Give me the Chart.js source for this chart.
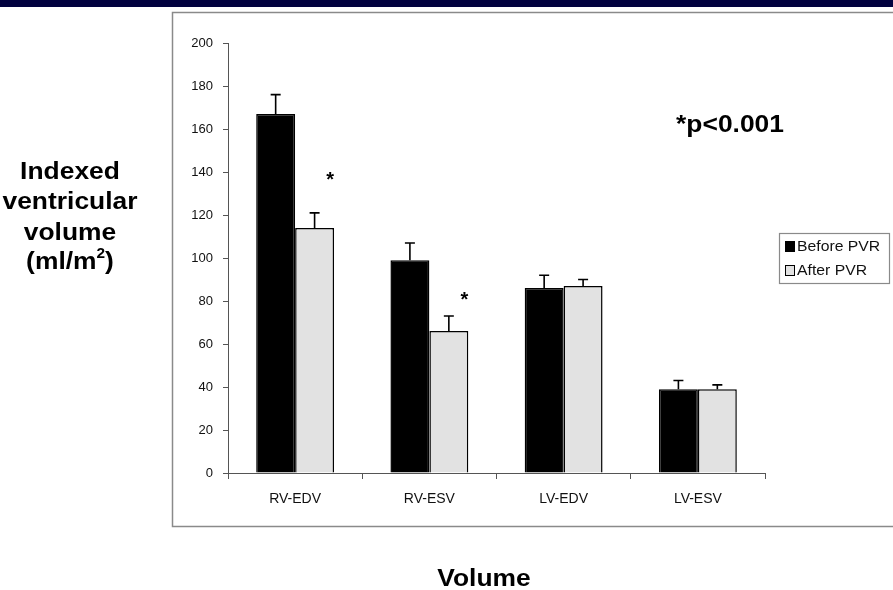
<!DOCTYPE html>
<html>
<head>
<meta charset="utf-8">
<script src="https://cdn.jsdelivr.net/npm/chart.js@4"></script>
<style>
  html, body { margin: 0; padding: 0; background: #fff; }
  #wrap { width: 893px; height: 590px; position: relative; }
</style>
</head>
<body>
<div id="wrap"><canvas id="c" width="893" height="590"></canvas></div>
<script>
// ---- data ----
const categories = ['RV-EDV', 'RV-ESV', 'LV-EDV', 'LV-ESV'];
const seriesNames = ['Before PVR', 'After PVR'];
const beforeValues = [167, 99, 86, 39];
const beforeErrors = [9, 8, 6, 4];
const afterValues = [114, 66, 87, 39];
const afterErrors = [7, 7, 3, 2];
const starValues = [138, 82, null, null];   // height (in y units) of the "*" significance marks over "After PVR"
const yTicks = [0, 20, 40, 60, 80, 100, 120, 140, 160, 180, 200];
const yAxisTitle = ['Indexed', 'ventricular', 'volume', '(ml/m²)'];
const xAxisTitle = 'Volume';
const pNote = '*p<0.001';

const FONT = '"Liberation Sans", Arial, sans-serif';
const errorsBySeries = [beforeErrors, afterErrors];
const SX = 1.1; // horizontal stretch of the big bold labels

function stretchedText(ctx, parts, cx, y) {
  // parts: [{t, font, dy}]
  let total = 0;
  parts.forEach(p => { ctx.font = p.font; p.w = ctx.measureText(p.t).width; total += p.w; });
  ctx.save();
  ctx.translate(cx, y);
  ctx.scale(SX, 1);
  let x = -total / 2;
  ctx.textAlign = 'left';
  parts.forEach(p => { ctx.font = p.font; ctx.fillText(p.t, x, p.dy || 0); x += p.w; });
  ctx.restore();
}

const decorPlugin = {
  id: 'decor',
  beforeDraw(chart) {
    const ctx = chart.ctx;
    ctx.save();
    ctx.fillStyle = '#fff';
    ctx.fillRect(0, 0, chart.width, chart.height);
    ctx.fillStyle = '#02023f';
    ctx.fillRect(0, 0, chart.width, 7);
    ctx.strokeStyle = '#8a8a8a';
    ctx.lineWidth = 1.5;
    ctx.strokeRect(172.5, 12.5, 800, 514);
    ctx.restore();
  },
  afterDatasetsDraw(chart) {
    const ctx = chart.ctx;
    const ys = chart.scales.y;
    ctx.save();
    ctx.strokeStyle = '#000';
    ctx.lineWidth = 1.6;
    chart.data.datasets.forEach((ds, i) => {
      const meta = chart.getDatasetMeta(i);
      const errs = errorsBySeries[i];
      meta.data.forEach((bar, j) => {
        const top = ys.getPixelForValue(ds.data[j] + errs[j]);
        ctx.beginPath();
        ctx.moveTo(bar.x, bar.y);
        ctx.lineTo(bar.x, top);
        ctx.moveTo(bar.x - 5, top);
        ctx.lineTo(bar.x + 5, top);
        ctx.stroke();
      });
    });
    const metaAfter = chart.getDatasetMeta(1);
    ctx.fillStyle = '#000';
    ctx.font = 'bold 20px ' + FONT;
    ctx.textAlign = 'center';
    ctx.textBaseline = 'middle';
    starValues.forEach((v, j) => {
      if (v == null) return;
      const bar = metaAfter.data[j];
      ctx.fillText('*', bar.x + bar.width * 0.4, ys.getPixelForValue(v) + 4);
    });
    ctx.restore();
  },
  afterDraw(chart) {
    const ctx = chart.ctx;
    ctx.save();
    ctx.fillStyle = '#000';
    ctx.textBaseline = 'middle';
    const big = 'bold 24px ' + FONT;
    const sup = 'bold 14px ' + FONT;
    const ly = [172, 202, 233, 262];
    yAxisTitle.forEach((t, k) => {
      if (t.indexOf('²') >= 0) {
        const base = t.replace('²)', '');
        stretchedText(ctx, [{ t: base, font: big }, { t: '2', font: sup, dy: -8 }, { t: ')', font: big }], 70, ly[k]);
      } else {
        stretchedText(ctx, [{ t, font: big }], 70, ly[k]);
      }
    });
    stretchedText(ctx, [{ t: xAxisTitle, font: big }], 484, 579);
    stretchedText(ctx, [{ t: pNote, font: big }], 730, 125);
    // legend
    ctx.strokeStyle = '#8a8a8a';
    ctx.lineWidth = 1.2;
    ctx.strokeRect(779.5, 233.5, 110, 50);
    ctx.font = '15px ' + FONT;
    ctx.textAlign = 'left';
    chart.data.datasets.forEach((ds, i) => {
      const y = 246 + i * 24;
      ctx.fillStyle = ds.backgroundColor;
      ctx.fillRect(785, y - 5, 10, 11);
      ctx.strokeStyle = '#000';
      ctx.lineWidth = 1;
      ctx.strokeRect(785.5, y - 4.5, 9, 10);
      ctx.fillStyle = '#111';
      ctx.save();
      ctx.translate(797, y + 1);
      ctx.scale(1.05, 1);
      ctx.fillText(ds.label, 0, 0);
      ctx.restore();
    });
    ctx.restore();
  }
};

new Chart(document.getElementById('c'), {
  type: 'bar',
  data: {
    labels: categories,
    datasets: [
      { label: seriesNames[0], data: beforeValues, backgroundColor: '#000000', borderColor: '#000', borderWidth: 1.5 },
      { label: seriesNames[1], data: afterValues, backgroundColor: '#e2e2e2', borderColor: '#000', borderWidth: 1.5 }
    ]
  },
  options: {
    responsive: false,
    animation: false,
    devicePixelRatio: 1,
    layout: { padding: { left: 172, top: 43, right: 128, bottom: 0 } },
    plugins: { legend: { display: false }, tooltip: { enabled: false } },
    datasets: { bar: { categoryPercentage: 0.58, barPercentage: 1.0 } },
    scales: {
      x: {
        type: 'category',
        offset: true,
        afterFit(s) { s.height = 117; },
        grid: { offset: true, drawOnChartArea: false, tickLength: 6, color: '#555', lineWidth: 1 },
        border: { color: '#555', width: 1 },
        ticks: { color: '#111', font: { family: FONT, size: 14 }, padding: 12, maxRotation: 0 }
      },
      y: {
        min: 0, max: 200,
        afterFit(s) { s.width = 56; },
        afterBuildTicks(s) { s.ticks = yTicks.map(v => ({ value: v })); },
        grid: { drawOnChartArea: false, tickLength: 5, color: '#555', lineWidth: 1 },
        border: { color: '#555', width: 1 },
        ticks: { color: '#111', font: { family: FONT, size: 13 }, padding: 10 }
      }
    }
  },
  plugins: [decorPlugin]
});
</script>
</body>
</html>
